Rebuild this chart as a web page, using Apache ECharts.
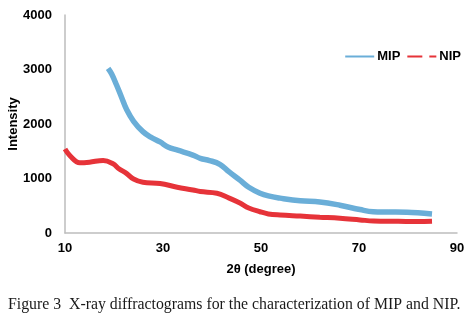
<!DOCTYPE html>
<html><head><meta charset="utf-8">
<script src="https://cdn.jsdelivr.net/npm/echarts@6/dist/echarts.min.js"></script>
<style>html,body{margin:0;padding:0;background:#fff}#c{width:476px;height:326px}</style>
</head><body><div id="c"></div>
<script>
const mipX = [18.8, 19.5, 20.5, 21.5, 22.6, 24, 25.9, 27.5, 29.4, 31, 33, 36.1, 37.6, 39.5, 41.6, 43.5, 45.7, 47.5, 49.8, 51.5, 53.9, 58, 62, 66.1, 70.2, 72.9, 76, 79.8, 82, 84.9];
const mipY = [3020, 2920, 2720, 2500, 2260, 2050, 1860, 1760, 1670, 1580, 1520, 1430, 1370, 1330, 1260, 1120, 970, 840, 730, 680, 640, 590, 570, 510, 430, 390, 385, 380, 370, 350];
const nipX = [10, 11, 13, 15, 17.8, 19.8, 21, 22.6, 24, 25.9, 29.4, 32.9, 36.1, 37.6, 41, 43.5, 45.7, 47.5, 49.8, 51.5, 53.9, 58, 62, 66.1, 70.2, 73, 78, 82, 84.9];
const nipY = [1540, 1420, 1290, 1300, 1330, 1270, 1180, 1090, 990, 930, 910, 840, 790, 760, 730, 640, 550, 460, 390, 350, 330, 310, 290, 270, 240, 220, 215, 210, 215];
const xTicks = [10, 30, 50, 70, 90];
const yTicks = [0, 1000, 2000, 3000, 4000];
const pairs = (xs, ys) => xs.map((x, i) => [x, ys[i]]);
const chart = echarts.init(document.getElementById('c'));
const bold = {fontFamily: 'Liberation Sans', fontWeight: 'bold', fontSize: 13, color: '#000'};
chart.setOption({
  animation: false,
  grid: {left: 65, right: 19, top: 15, bottom: 93, containLabel: false, outerBoundsMode: 'none'},
  legend: {
    right: 10, top: 45, itemWidth: 29, itemHeight: 2, itemGap: 7,
    textStyle: {fontFamily: 'Liberation Sans', fontWeight: 'bold', fontSize: 13, color: '#000', padding: [0,0,0,-2]},
    data: [
      {name: 'MIP', icon: 'rect', itemStyle: {color: '#6aaed8'}},
      {name: 'NIP', icon: 'path://M0,0H15V2H0Z M22,0H29V2H22Z', itemStyle: {color: '#e63339'}}
    ]
  },
  xAxis: {
    type: 'value', min: 10, max: 90, interval: 20,
    name: '2θ (degree)', nameLocation: 'middle', nameGap: 30,
    nameTextStyle: bold,
    axisLine: {lineStyle: {color: '#bdbdbd', width: 1.5}},
    axisTick: {show: false}, splitLine: {show: false},
    axisLabel: Object.assign({margin: 9, formatter: v => xTicks.includes(v) ? String(v) : ''}, bold)
  },
  yAxis: {
    type: 'value', min: 0, max: 4000, interval: 1000,
    name: 'Intensity', nameLocation: 'middle', nameGap: 45, nameRotate: 90, nameMoveOverlap: false,
    nameTextStyle: bold,
    axisLine: {show: true, lineStyle: {color: '#bdbdbd', width: 1.5}},
    axisTick: {show: false}, splitLine: {show: false},
    axisLabel: Object.assign({margin: 13, formatter: v => yTicks.includes(v) ? String(v) : ''}, bold)
  },
  series: [
    {name: 'MIP', type: 'line', data: pairs(mipX, mipY), showSymbol: false, symbol: 'none', smooth: 0.4,
     lineStyle: {color: '#6aaed8', width: 5.5}, itemStyle: {color: '#6aaed8'}},
    {name: 'NIP', type: 'line', data: pairs(nipX, nipY), showSymbol: false, symbol: 'none', smooth: 0.4,
     lineStyle: {color: '#e63339', width: 5}, itemStyle: {color: '#e63339'}}
  ],
  graphic: [
    {type: 'text', left: 8, top: 297, style: {
      text: 'Figure 3  X-ray diffractograms for the characterization of MIP and NIP.',
      font: '15.8px "Liberation Serif"', fill: '#1a1a1a'
    }}
  ]
});
</script></body></html>
